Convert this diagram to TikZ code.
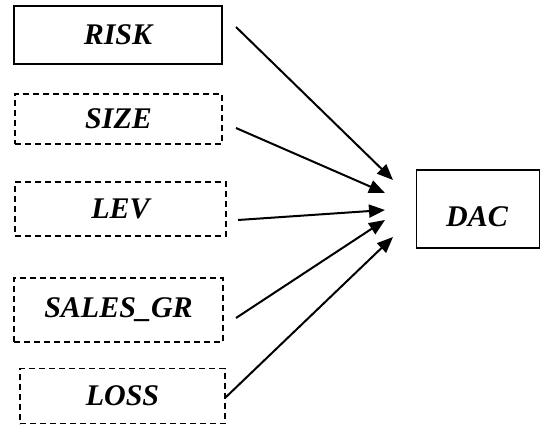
\documentclass[tikz,border=0pt]{standalone}
\usepackage{fontspec}
\setmainfont{Liberation Serif}
\usetikzlibrary{arrows.meta}
\begin{document}
\begin{tikzpicture}[x=1pt,y=-1pt,
  lbl/.style={font=\fontsize{30}{34}\selectfont\bfseries\itshape},
  box/.style={draw, line width=1.8pt, inner sep=0pt, lbl},
  dbox/.style={box, dash pattern=on 6pt off 4pt},
  arr/.style={line width=2pt, -{Triangle[length=16pt,width=13pt]}}]
\useasboundingbox (0,0) rectangle (541,425);
\node[box, minimum width=208pt, minimum height=58pt] (risk) at (118,35) {RISK};
\node[dbox, minimum width=207pt, minimum height=50pt] (size) at (118.5,119) {SIZE};
\node[dbox, minimum width=211pt, minimum height=54pt] (lev) at (120.5,209) {LEV};
\node[dbox, minimum width=209pt, minimum height=64pt] (sales) at (118.5,310) {SALES\_GR};
\node[dbox, minimum width=205pt, minimum height=55pt] (loss) at (122.5,396) {LOSS};
\node[box, minimum width=123pt, minimum height=78pt] (dac) at (478,209) {};
\node[lbl] (dact) at (477,217) {DAC};
\coordinate (s1) at (236,27);
\coordinate (e1) at (393,180);
\coordinate (s2) at (236,128);
\coordinate (e2) at (385,193);
\coordinate (s3) at (238,220);
\coordinate (e3) at (385,210);
\coordinate (s4) at (236,318);
\coordinate (e4) at (385,220);
\coordinate (s5) at (225,398);
\coordinate (e5) at (393,237);
\draw[arr] (s1) -- (e1);
\draw[arr] (s2) -- (e2);
\draw[arr] (s3) -- (e3);
\draw[arr] (s4) -- (e4);
\draw[arr] (s5) -- (e5);
\end{tikzpicture}
\end{document}
